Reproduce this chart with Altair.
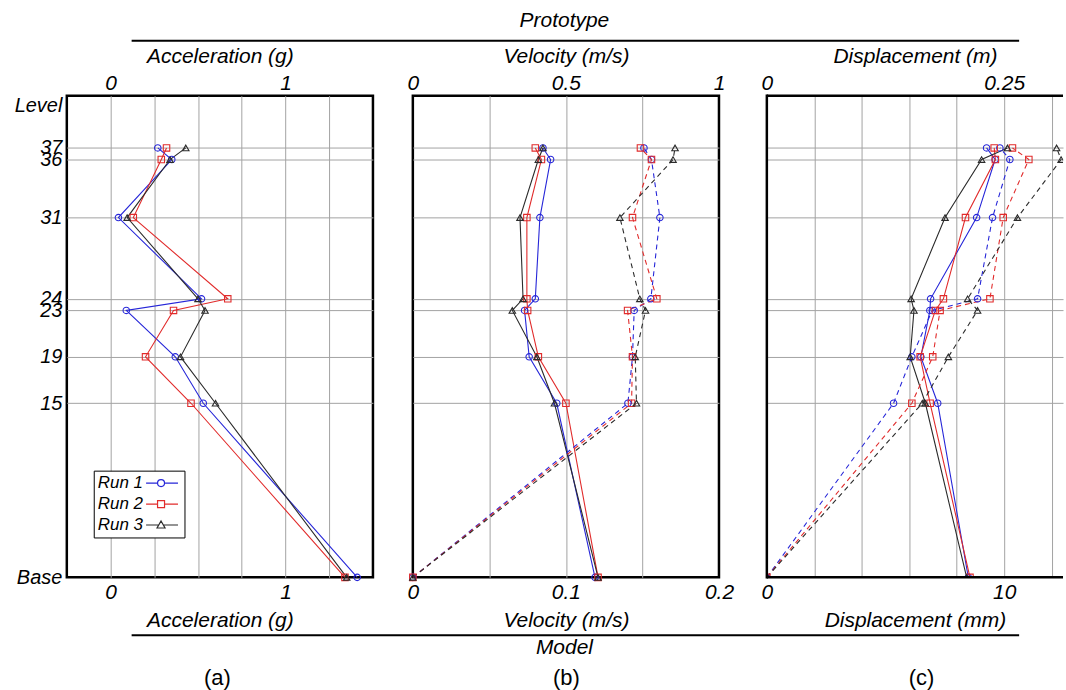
import altair as alt
import pandas as pd

# ---------------- data ----------------
levels = [0, 15, 19, 23, 24, 31, 36, 37]
level_names = ["Base", "15", "19", "23", "24", "31", "36", "37"]
runs = ["Run 1", "Run 2", "Run 3"]
run_colors = ["#2626d8", "#e12b2b", "#2b2b2b"]
run_shapes = ["circle", "square", "triangle-up"]

# peak acceleration, model scale (g)
acc_run1 = [1.41, 0.53, 0.37, 0.09, 0.52, 0.045, 0.35, 0.27]
acc_run2 = [1.34, 0.46, 0.20, 0.36, 0.67, 0.13, 0.29, 0.32]
acc_run3 = [1.35, 0.60, 0.40, 0.54, 0.50, 0.095, 0.34, 0.43]

# peak absolute velocity, model scale (m/s)
vel_abs_run1 = [0.119, 0.094, 0.076, 0.073, 0.080, 0.083, 0.090, 0.085]
vel_abs_run2 = [0.121, 0.100, 0.082, 0.075, 0.0745, 0.0745, 0.084, 0.080]
vel_abs_run3 = [0.121, 0.0925, 0.081, 0.065, 0.072, 0.070, 0.082, 0.085]
# peak velocity relative to the base (m/s)
vel_rel_run1 = [0, 0.1405, 0.1435, 0.1446, 0.1555, 0.1614, 0.1559, 0.151]
vel_rel_run2 = [0, 0.1429, 0.1435, 0.1403, 0.1594, 0.1435, 0.1559, 0.1487]
vel_rel_run3 = [0, 0.1461, 0.1453, 0.152, 0.1483, 0.1353, 0.170, 0.1713]

# peak absolute displacement, model scale (mm)
disp_abs_run1 = [8.49, 7.20, 6.49, 6.87, 6.90, 8.84, 9.62, 9.26]
disp_abs_run2 = [8.56, 6.88, 6.46, 7.10, 7.44, 8.37, 9.63, 9.58]
disp_abs_run3 = [8.42, 6.68, 6.04, 6.20, 6.08, 7.51, 9.05, 10.14]
# peak displacement relative to the base (mm)
disp_rel_run1 = [0, 5.34, 6.11, 6.97, 8.88, 9.51, 10.24, 9.82]
disp_rel_run2 = [0, 6.11, 6.99, 7.30, 9.40, 9.96, 11.04, 10.35]
disp_rel_run3 = [0, 6.55, 7.65, 8.88, 8.46, 10.56, 12.40, 12.21]

# prototype / model scale factors for the upper axes
vel_factor = 5
disp_factor = 1 / 40  # mm (model) -> m (prototype)

# ---------------- styling ----------------
FONT = "Liberation Sans"
GRID = "#a3a3a3"
LEVEL_MAX = 41.5
HEIGHT = 483
FRAME = 2.5


def long_frame(series):
    rows = []
    for run, vals in zip(runs, series):
        for lv, v in zip(levels, vals):
            rows.append({"level": lv, "run": run, "value": v})
    return pd.DataFrame(rows)


acc_df = long_frame([acc_run1, acc_run2, acc_run3])
vel_abs_df = long_frame([vel_abs_run1, vel_abs_run2, vel_abs_run3])
vel_rel_df = long_frame([vel_rel_run1, vel_rel_run2, vel_rel_run3])
disp_abs_df = long_frame([disp_abs_run1, disp_abs_run2, disp_abs_run3])
disp_rel_df = long_frame([disp_rel_run1, disp_rel_run2, disp_rel_run3])

color_scale = alt.Scale(domain=runs, range=run_colors)
y_scale = alt.Scale(domain=[0, LEVEL_MAX], nice=False, zero=False)

# legend symbols: a short line with the run's marker, drawn to the right of the label
legend_paths = [
    "M20,0H25.75M29.25,0H36M25.75,0A1.75,1.75,0,1,0,29.25,0A1.75,1.75,0,1,0,25.75,0",
    "M20,0H25.75M29.25,0H36M25.75,-1.75H29.25V1.75H25.75Z",
    "M20,0H26.4M28.6,0H36M27.5,-2L29.5,1.5H25.5Z",
]
run_legend = alt.Legend(
    title=None, orient="none", legendX=27, legendY=376,
    labelFont=FONT, labelFontSize=17, labelFontStyle="italic", labelColor="black",
    labelOffset={"expr": "-17"},
    strokeColor="black", fillColor="white", padding=4,
    symbolSize=16, symbolStrokeWidth=1.2, symbolOpacity=1, rowPadding=3,
)


def y_axis(with_labels):
    common = dict(
        values=levels, grid=True, gridColor=GRID, gridWidth=1,
        gridOpacity={"condition": {"test": "datum.value == 0", "value": 0}, "value": 1},
        ticks=False, domain=False,
    )
    if with_labels:
        return alt.Axis(
            **common,
            labelExpr=f"{level_names}[indexof({levels}, datum.value)]",
            labelOverlap=False, labelPadding=5, labelFontSize=20,
            title="Level", titleAngle=0, titleAlign="right", titleBaseline="middle",
            titleX=-5, titleY=10, titleFontSize=20,
        )
    return alt.Axis(**common, labels=False, title=None)


def one_row():
    return alt.Data(values=[{}])


def note(text, x, y, size=21, style="italic"):
    return alt.Chart(one_row()).mark_text(
        text=text, font=FONT, fontSize=size, fontStyle=style, color="black",
        align="center", baseline="middle",
    ).encode(x=alt.value(x), y=alt.value(y))


def hline(x1, x2, y, width=2):
    return alt.Chart(one_row()).mark_rule(color="black", strokeWidth=width).encode(
        x=alt.value(x1), x2=alt.value(x2), y=alt.value(y)
    )


def vline(x, y1, y2, width=2):
    return alt.Chart(one_row()).mark_rule(color="black", strokeWidth=width, strokeCap="square").encode(
        x=alt.value(x), y=alt.value(y1), y2=alt.value(y2)
    )


def legend_layer():
    # carries the run legend only: its rows are filtered out, the scale domain is explicit
    return (
        alt.Chart(pd.DataFrame({"run": runs}))
        .transform_filter("false")
        .mark_point(filled=False)
        .encode(
            x=alt.value(0), y=alt.value(0),
            color=alt.Color("run:N", scale=color_scale, legend=run_legend),
            shape=alt.Shape("run:N", scale=alt.Scale(domain=runs, range=legend_paths),
                            legend=run_legend),
        )
    )


def panel(abs_df, rel_df, dom, grid_vals, bottom_vals, top_vals, top_factor,
          title, top_title, width, left_labels, leading, extras, open_right=False):
    xs = alt.Scale(domain=dom, nice=False, zero=False)
    edge = f"datum.value <= {dom[0]} || datum.value >= {dom[1]}"
    bottom_axis = alt.Axis(
        orient="bottom", values=grid_vals, format="~g",
        labelExpr=f"indexof({bottom_vals}, datum.value) >= 0 ? datum.label : ''",
        grid=True, gridColor=GRID, gridWidth=1,
        gridOpacity={"condition": {"test": edge, "value": 0}, "value": 1},
        ticks=False, domain=False, labelFlush=False, labelOverlap=False,
        labelPadding=4, title=title, titlePadding=7,
    )
    top_axis = alt.Axis(
        orient="top", values=top_vals,
        labelExpr=f"format(datum.value * {top_factor}, '~g')",
        grid=False, ticks=False, domain=False, labelFlush=False, labelOverlap=False,
        labelPadding=2, title=top_title, titlePadding=6,
    )
    enc_y = alt.Y("level:Q", scale=y_scale, axis=y_axis(left_labels))
    line_color = alt.Color("run:N", scale=color_scale, legend=None)

    layers = list(leading)
    layers.append(
        alt.Chart(abs_df).mark_line(strokeWidth=1.1, clip=open_right).encode(
            x=alt.X("value:Q", scale=xs, axis=bottom_axis), y=enc_y,
            color=line_color, order=alt.Order("level:Q"),
        )
    )
    pts_df = abs_df
    if rel_df is not None:
        layers.append(
            alt.Chart(rel_df).mark_line(strokeWidth=1.1, strokeDash=[5, 4], clip=open_right).encode(
                x=alt.X("value:Q", scale=xs, axis=None), y=enc_y,
                color=line_color, order=alt.Order("level:Q"),
            )
        )
        pts_df = pd.concat([abs_df, rel_df], ignore_index=True)
    for i, (run, shp) in enumerate(zip(runs, run_shapes)):
        layers.append(
            alt.Chart(pts_df).transform_filter(alt.datum.run == run)
            .mark_point(shape=shp, filled=False, size=42, strokeWidth=1.1, opacity=1, clip=open_right)
            .encode(
                x=alt.X("value:Q", scale=xs, axis=top_axis if i == 0 else None), y=enc_y,
                color=line_color,
            )
        )
    layers.extend(extras)
    if open_right:
        # frame drawn on three sides only; the panel runs on past the right edge
        layers.extend([
            hline(0, width, 0, FRAME),
            hline(0, width, HEIGHT, FRAME),
            vline(0, 0, HEIGHT, FRAME),
        ])
        return (
            alt.layer(*layers, view=alt.ViewBackground(stroke="transparent"))
            .properties(width=width, height=HEIGHT)
            .resolve_axis(x="independent")
        )
    return alt.layer(*layers).properties(width=width, height=HEIGHT).resolve_axis(x="independent")


acc_panel = panel(
    acc_df, None, [-0.25, 1.5],
    [-0.25, 0, 0.25, 0.5, 0.75, 1, 1.25, 1.5], [0, 1], [0, 1], 1,
    "Acceleration (g)", "Acceleration (g)", 307, True,
    [legend_layer()],
    [note("(a)", 151, 584, size=22, style="normal")],
)
vel_panel = panel(
    vel_abs_df, vel_rel_df, [0, 0.2],
    [0, 0.05, 0.1, 0.15, 0.2], [0, 0.1, 0.2], [0, 0.1, 0.2], vel_factor,
    "Velocity (m/s)", "Velocity (m/s)", 307, False,
    [],
    [
        note("Prototype", 152, -75),
        hline(-282, 608, -55),
        hline(-282, 608, 541),
        note("Model", 152, 554),
        note("(b)", 154, 584, size=22, style="normal"),
    ],
)
disp_panel = panel(
    disp_abs_df, disp_rel_df, [0, 12.48],
    [0, 2, 4, 6, 8, 10, 12], [0, 10], [0, 10], disp_factor,
    "Displacement (mm)", "Displacement (m)", 297, False,
    [],
    [note("(c)", 155, 584, size=22, style="normal")],
    open_right=True,
)

chart = (
    alt.hconcat(
        acc_panel,
        alt.hconcat(vel_panel, disp_panel, spacing=48, bounds="flush"),
        spacing=40, bounds="flush",
    )
    .resolve_legend(color="independent", shape="independent")
    .properties(padding={"left": 12, "top": 7, "right": 0, "bottom": 0}, background="white")
    .configure_view(stroke="black", strokeWidth=FRAME)
    .configure_axis(
        labelFont=FONT, labelFontSize=21, labelFontStyle="italic", labelColor="black",
        titleFont=FONT, titleFontSize=21, titleFontStyle="italic", titleFontWeight="normal",
        titleColor="black",
    )
)

chart.save("out.html", embed_options={"renderer": "svg", "actions": False})
